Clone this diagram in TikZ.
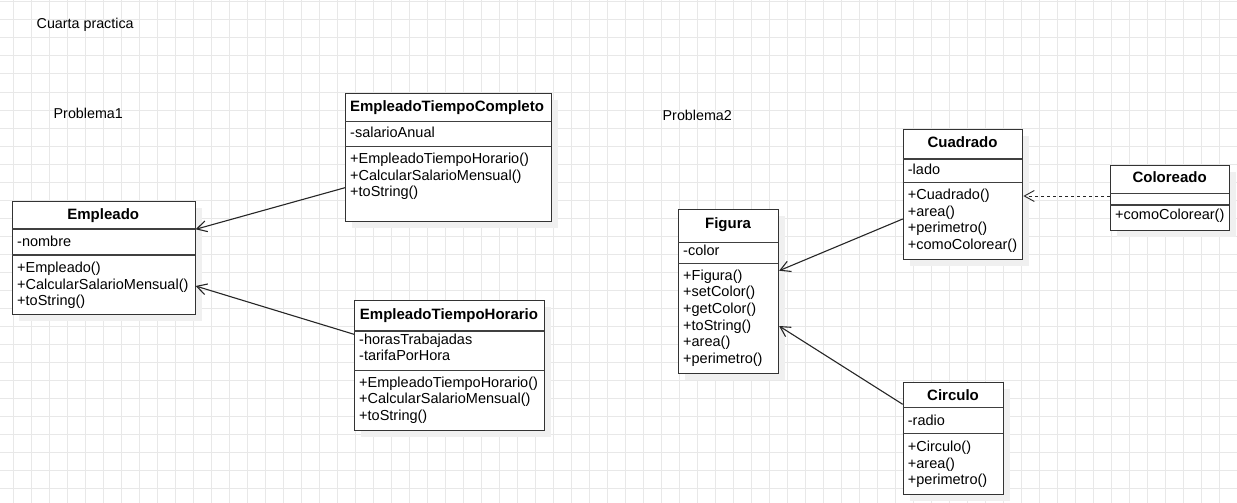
\documentclass[tikz,border=0pt]{standalone}
\usepackage{fontspec}
\setmainfont{Liberation Sans}
\usetikzlibrary{arrows.meta,calc}

\tikzset{
  gridline/.style={draw=black!9, line width=1pt},
  shadowbox/.style={fill=black!6, draw=none},
  classbox/.style={draw=black!80, line width=1.1pt, fill=white, inner sep=0pt, anchor=north west},
  divider/.style={draw=black!75, line width=1.1pt},
  classtitle/.style={anchor=base, inner sep=0pt, font=\fontsize{15}{16}\selectfont\bfseries},
  member/.style={anchor=base west, inner sep=0pt, font=\fontsize{14.5}{16}\selectfont},
  label/.style={anchor=base west, inner sep=0pt, font=\fontsize{14.3}{16}\selectfont},
  assoc/.style={draw=black!85, line width=1.1pt, -{Straight Barb[length=10pt,width=11pt]}},
  realize/.style={assoc, line width=0.9pt, dash pattern=on 3pt off 3pt},
}

% frame of a class: name, left, top, right, bottom, first and second divider
\newcommand\classframe[7]{%
  \fill[shadowbox] (#2+7,#3+7) rectangle (#4+7,#5+7);
  \node[classbox, minimum width={#4-#2}, minimum height={#5-#3}] (#1) at (#2,#3) {};
  \draw[divider] (#2,#6) -- (#4,#6);
  \draw[divider] (#2,#7) -- (#4,#7);
}

\begin{document}
\begin{tikzpicture}[x=1pt,y=-1pt]
  \useasboundingbox (0,0) rectangle (1237,503);
  \fill[white] (0,0) rectangle (1237,503);

  % background grid
  \foreach \gx in {0,...,68} {\draw[gridline] (13+18*\gx,0) -- (13+18*\gx,503);}
  \foreach \gy in {0,...,27} {\draw[gridline] (0,2+18*\gy) -- (1237,2+18*\gy);}

  % headings
  \node[label] (hdr) at (36.5,28.5) {Cuarta practica};
  \node[label] (p1) at (53.5,118.5) {Problema1};
  \node[label] (p2) at (662.5,120.5) {Problema2};

  % ---------------- Problema 1 ----------------
  \classframe{emp}{12}{201}{194.5}{314}{229}{255}
  \node[classtitle] (empT) at (103.25,219.5) {Empleado};
  \node[member] (empA1) at (17,246) {-nombre};
  \node[member] (empM1) at (17,272.5) {+Empleado()};
  \node[member] (empM2) at (17,289) {+CalcularSalarioMensual()};
  \node[member] (empM3) at (17,305.5) {+toString()};

  \classframe{etc}{345}{93.3}{551}{221}{121.7}{146.7}
  \node[classtitle] (etcT) at (447,111.5) {EmpleadoTiempoCompleto};
  \node[member] (etcA1) at (350,137.5) {-salarioAnual};
  \node[member] (etcM1) at (350,163.5) {+EmpleadoTiempoHorario()};
  \node[member] (etcM2) at (350,180) {+CalcularSalarioMensual()};
  \node[member] (etcM3) at (350,196.5) {+toString()};

  \classframe{eth}{354}{300}{544}{430}{331}{370.7}
  \node[classtitle] (ethT) at (449,319) {EmpleadoTiempoHorario};
  \node[member] (ethA1) at (359,344.3) {-horasTrabajadas};
  \node[member] (ethA2) at (359,360.7) {-tarifaPorHora};
  \node[member] (ethM1) at (359,387.3) {+EmpleadoTiempoHorario()};
  \node[member] (ethM2) at (359,403.8) {+CalcularSalarioMensual()};
  \node[member] (ethM3) at (359,420.3) {+toString()};

  % ---------------- Problema 2 ----------------
  \classframe{fig}{678}{209.3}{778}{373.3}{242.7}{263.3}
  \node[classtitle] (figT) at (728,228.3) {Figura};
  \node[member] (figA1) at (683,255) {-color};
  \node[member] (figM1) at (683,280) {+Figura()};
  \node[member] (figM2) at (683,296.7) {+setColor()};
  \node[member] (figM3) at (683,313.3) {+getColor()};
  \node[member] (figM4) at (683,330) {+toString()};
  \node[member] (figM5) at (683,346.7) {+area()};
  \node[member] (figM6) at (683,363.3) {+perimetro()};

  \classframe{cua}{902.7}{129}{1022.3}{259}{159}{182.3}
  \node[classtitle] (cuaT) at (962.5,147.7) {Cuadrado};
  \node[member] (cuaA1) at (907.7,174) {-lado};
  \node[member] (cuaM1) at (907.7,199.3) {+Cuadrado()};
  \node[member] (cuaM2) at (907.7,216) {+area()};
  \node[member] (cuaM3) at (907.7,232.6) {+perimetro()};
  \node[member] (cuaM4) at (907.7,249.3) {+comoColorear()};

  \classframe{col}{1110}{165}{1229.3}{230}{193.3}{205}
  \node[classtitle] (colT) at (1169.65,182.7) {Coloreado};
  \node[member] (colM1) at (1115,219.3) {+comoColorear()};

  \classframe{cir}{902.7}{381.7}{1003.3}{494}{407.7}{433.3}
  \node[classtitle] (cirT) at (953,400) {Circulo};
  \node[member] (cirA1) at (907.7,425) {-radio};
  \node[member] (cirM1) at (907.7,451.7) {+Circulo()};
  \node[member] (cirM2) at (907.7,468) {+area()};
  \node[member] (cirM3) at (907.7,484.3) {+perimetro()};

  % ---------------- relations ----------------
  \draw[assoc] ($(etc.north west)+(0,94.4)$) -- ($(emp.north east)+(0,28.3)$);
  \draw[assoc] ($(eth.north west)+(0,34.3)$) -- ($(emp.north east)+(0,85)$);
  \draw[assoc] ($(cua.north west)+(0,90)$) -- ($(fig.north east)+(0,61.4)$);
  \draw[assoc] ($(cir.north west)+(0,22.6)$) -- ($(fig.north east)+(0,116.7)$);
  \draw[realize] ($(col.north west)+(0,31)$) -- ($(cua.north east)+(0,67)$);
\end{tikzpicture}
\end{document}
